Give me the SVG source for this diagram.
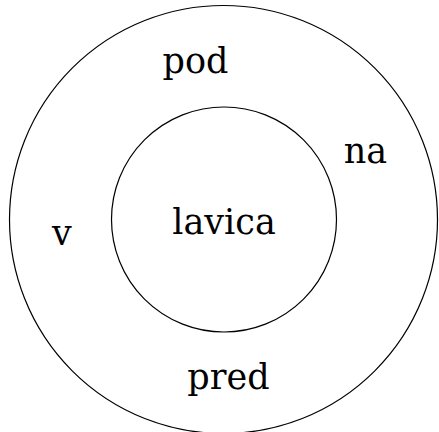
<svg xmlns="http://www.w3.org/2000/svg" width="439" height="432" viewBox="0 0 439 432">
<style>
.c{fill:none;stroke:#000;stroke-width:1.2}
.t{font-family:"DejaVu Serif",serif;font-size:35px;fill:#000;text-anchor:middle}
</style>
<rect width="439" height="432" fill="#fff"/>
<g id="outer"><circle class="c" cx="223.5" cy="219.5" r="214"/></g>
<g id="inner"><circle class="c" cx="224" cy="219.5" r="112.5"/></g>
<g id="labels">
<text class="t" x="224" y="234">lavica</text>
<text class="t" x="195.5" y="73">pod</text>
<text class="t" x="365.5" y="163">na</text>
<text class="t" x="62" y="245">v</text>
<text class="t" x="228.5" y="389">pred</text>
</g>
<g id="connectors"/>
</svg>
